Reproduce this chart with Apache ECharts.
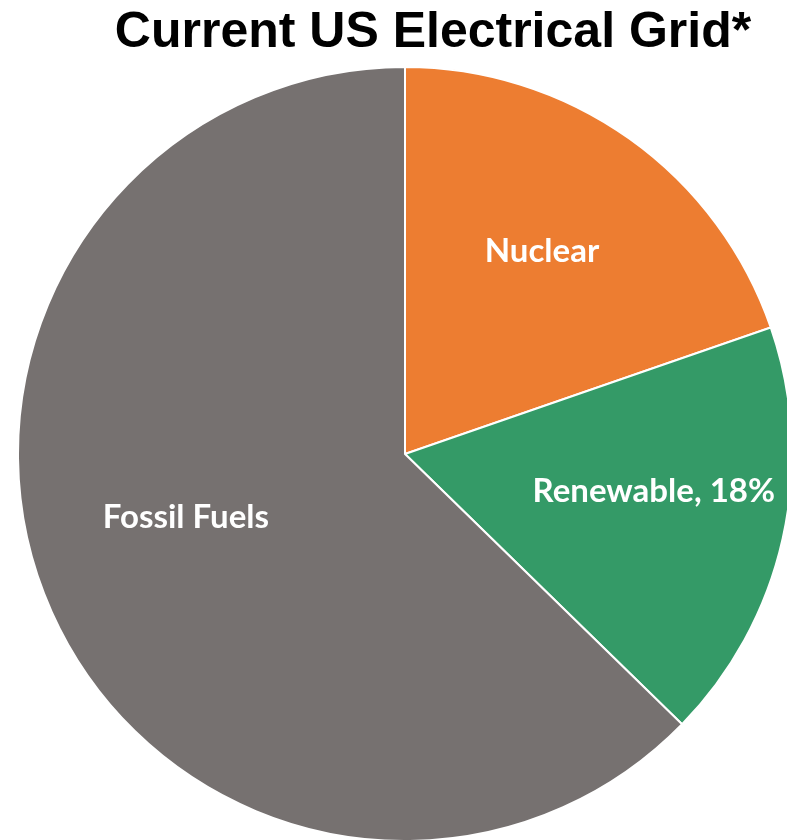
<!DOCTYPE html>
<html>
<head>
<meta charset="utf-8">
<script src="https://cdn.jsdelivr.net/npm/echarts@6/dist/echarts.min.js"></script>
<style>
html,body{margin:0;padding:0;background:#fff;}
#chart{width:787px;height:840px;}
</style>
</head>
<body>
<div id="chart"></div>
<script>
const titleText = 'Current US Electrical Grid*';
const categories = ['Nuclear', 'Renewable', 'Fossil Fuels'];
const values = [19.7, 17.6, 62.7];
const labelTexts = ['Nuclear', 'Renewable, 18%', 'Fossil Fuels'];
const colors = ['#ED7D31', '#349A67', '#767170'];
const labelOffsets = [[23, -43], [57, -6], [-38, -13]];

const chart = echarts.init(document.getElementById('chart'), null, {renderer: 'canvas'});
chart.setOption({
  animation: false,
  title: {
    text: titleText,
    left: 428,
    textAlign: 'center',
    top: 3,
    textStyle: {fontFamily: 'Liberation Sans, Arial, sans-serif', fontWeight: 'bold', fontSize: 50, color: '#000'}
  },
  series: [{
    type: 'pie',
    center: [405, 454],
    radius: [0, 387],
    startAngle: 90,
    clockwise: true,
    itemStyle: {borderColor: '#fff', borderWidth: 2},
    label: {
      show: true,
      position: 'inside',
      color: '#fff',
      fontFamily: 'Lato, sans-serif',
      fontWeight: 'bold',
      fontSize: 33
    },
    labelLine: {show: false},
    emphasis: {disabled: true},
    data: categories.map((c, i) => ({
      name: c,
      value: values[i],
      itemStyle: {color: colors[i]},
      label: {formatter: labelTexts[i], offset: labelOffsets[i]}
    }))
  }]
});
</script>
</body>
</html>
